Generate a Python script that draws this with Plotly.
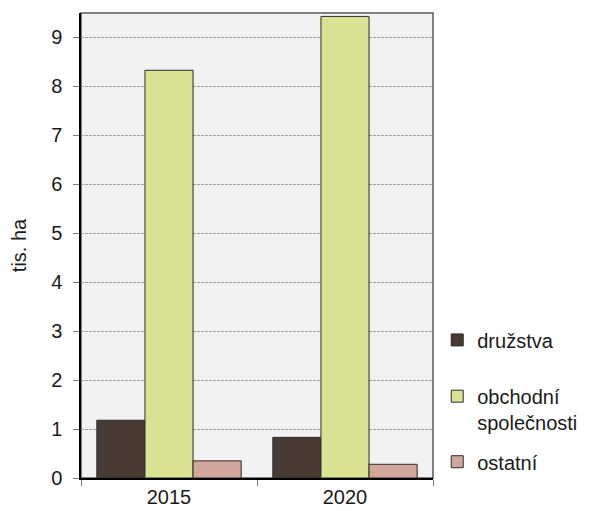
import plotly.graph_objects as go

years = ["2015", "2020"]
druzstva = [1.18, 0.83]
obchodni = [8.33, 9.43]
ostatni = [0.35, 0.28]

series_names = ["družstva", "obchodní<br>společnosti", "ostatní"]
series_values = [druzstva, obchodni, ostatni]
series_colors = ["#483b36", "#d9e192", "#d1a79c"]
legend_ids = ["legend", "legend2", "legend3"]
legend_y = [0.297, 0.148, 0.035]

fig = go.Figure()
for name, vals, col, lg in zip(series_names, series_values, series_colors, legend_ids):
    fig.add_trace(go.Bar(
        x=years, y=vals, name=name, legend=lg,
        marker=dict(color=col, line=dict(color="#2b2b2b", width=1)),
    ))

font = "Liberation Sans, Arial, sans-serif"
legend_style = dict(x=1.012, xanchor="left", yanchor="middle", valign="top",
                    font=dict(size=20, color="#1a1a1a"), itemwidth=30,
                    bgcolor="rgba(0,0,0,0)")

# page body has an 8px default margin, so the figure is sized/offset accordingly
fig.update_layout(
    width=582, height=503,
    margin=dict(l=73, r=157, t=5, b=33, autoexpand=False),
    paper_bgcolor="white", plot_bgcolor="#f2f2f2",
    barmode="group", bargap=0.18, bargroupgap=0,
    font=dict(family=font, size=20, color="#1a1a1a"),
    showlegend=True,
    legend=dict(y=legend_y[0], **legend_style),
    legend2=dict(y=legend_y[1], **legend_style),
    legend3=dict(y=legend_y[2], **legend_style),
    xaxis=dict(
        automargin=False,
        showline=True, linecolor="black", linewidth=1.5,
        ticks="outside", tickson="boundaries", ticklen=6, tickcolor="#808080",
        showgrid=False, tickfont=dict(size=20),
    ),
    yaxis=dict(
        automargin=False,
        range=[0, 9.5], dtick=1, tick0=0,
        showline=True, linecolor="black", linewidth=1.5,
        ticks="outside", ticklen=6, tickcolor="#808080",
        ticklabelstandoff=7,
        showgrid=True, gridcolor="#a0a0a0", griddash="3px,1px", gridwidth=1,
        zeroline=False, tickfont=dict(size=20),
        title=dict(text="tis. ha", font=dict(size=20), standoff=22),
    ),
    shapes=[dict(type="rect", xref="paper", yref="paper", x0=0, x1=1, y0=0, y1=1,
                 line=dict(color="#5a5a5a", width=1.5), layer="below")],
)
fig.write_html("out.html")
